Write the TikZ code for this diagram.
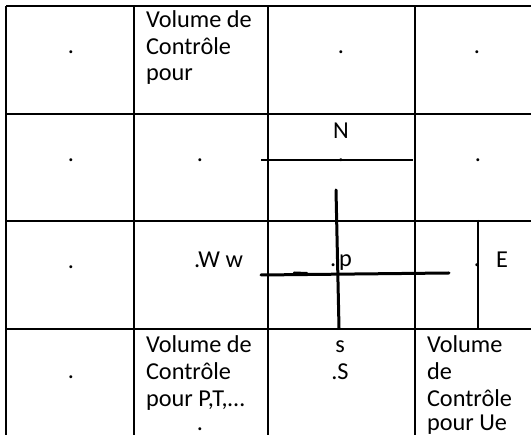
\documentclass[tikz,border=0pt]{standalone}
\usepackage{fontspec}
\setmainfont{Carlito}
\begin{document}
\begin{tikzpicture}[x=1pt,y=-1pt,
  grid/.style={line width=1.3pt,black},
  thinln/.style={line width=1.3pt,black},
  thickln/.style={line width=3pt,black,line cap=round},
  txt/.style={inner sep=0pt,outer sep=0pt,font=\fontsize{24.3}{26.5}\selectfont},
  ctxt/.style={txt,anchor=base},
  ltxt/.style={txt,anchor=base west}]
\useasboundingbox[fill=white] (0,0) rectangle (531,435);
% table grid
\foreach \x in {6,134,268,415} \draw[grid] (\x,6) -- (\x,436);
\foreach \y in {6,114,221,329} \draw[grid] (6,\y) -- (532,\y);
% row 1
\node[ctxt] (r1c1) at (71,54) {.};
\node[ltxt] (r1c2a) at (146,28) {Volume de};
\node[ltxt] (r1c2b) at (146,54.5) {Contrôle};
\node[ltxt] (r1c2c) at (146,81) {pour};
\node[ctxt] (r1c3) at (341,54) {.};
\node[ctxt] (r1c4) at (477,54) {.};
% row 2
\node[ctxt] (r2c1) at (71,162) {.};
\node[ctxt] (r2c2) at (200,162) {.};
\node[ctxt] (N) at (341,139) {N};
\node[ctxt] (r2c3) at (341,162) {.};
\node[ctxt] (r2c4) at (478,162) {.};
\coordinate (nl) at (261,160);
\coordinate (nr) at (413,160);
\draw[thinln] (nl) -- (nr);
% row 3
\node[ctxt] (r3c1) at (71,269) {.};
\node[ltxt] (W) at (194,268) {.W w};
\node[ltxt] (p) at (330,267) {.\kern3pt p};
\node[ctxt] (Edot) at (477,267) {.};
\node[ctxt] (E) at (502,268) {E};
\coordinate (vt) at (336,190);
\coordinate (vb) at (339,328);
\coordinate (hl) at (261,275);
\coordinate (hr) at (449,273);
\draw[thickln] (vt) -- (vb);
\draw[thickln] (hl) -- (hr);
\coordinate (d1) at (294,272.5);
\coordinate (d2) at (307,273);
\draw[line width=2pt,line cap=round] (d1) -- (d2);
\coordinate (et) at (478,220);
\coordinate (eb) at (478,328);
\draw[thinln] (et) -- (eb);
% row 4
\node[ctxt] (r4c1) at (71,379) {.};
\node[ltxt] (r4c2a) at (146,353) {Volume de};
\node[ltxt] (r4c2b) at (146,380) {Contrôle};
\node[ltxt] (r4c2c) at (146,407) {pour P,T,…};
\node[ctxt] (r4c2d) at (200,431) {.};
\node[ctxt] (s) at (340,353) {s};
\node[ctxt] (S) at (340,380) {.S};
\node[ltxt] (r4c4a) at (427,353) {Volume};
\node[ltxt] (r4c4b) at (427,380) {de};
\node[ltxt] (r4c4c) at (427,407) {Contrôle};
\node[ltxt] (r4c4d) at (427,431) {pour Ue};
\end{tikzpicture}
\end{document}
